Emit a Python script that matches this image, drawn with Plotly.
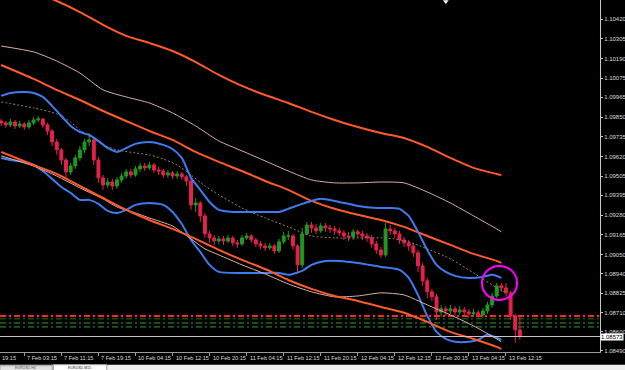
import plotly.graph_objects as go

# ---------------- data ----------------
# hourly candles, x = trading-hour index
candle_t = list(range(3, 116))
first_open = 1.09827
closes = [1.09816,1.09804,1.09821,1.09798,1.09810,1.09792,1.09816,1.09833,1.09839,1.09804,
          1.09769,1.09705,1.09659,1.09600,1.09531,1.09565,1.09612,1.09659,1.09705,1.09717,
          1.09600,1.09496,1.09455,1.09472,1.09449,1.09484,1.09507,1.09531,1.09513,1.09548,
          1.09565,1.09554,1.09571,1.09542,1.09536,1.09513,1.09525,1.09507,1.09519,1.09502,
          1.09478,1.09339,1.09350,1.09275,1.09170,1.09147,1.09129,1.09141,1.09129,1.09147,
          1.09118,1.09112,1.09147,1.09158,1.09135,1.09112,1.09100,1.09089,1.09100,1.09071,
          1.09124,1.09158,1.09158,1.09100,1.08990,1.09170,1.09222,1.09205,1.09188,1.09216,
          1.09205,1.09199,1.09188,1.09176,1.09158,1.09153,1.09182,1.09170,1.09158,1.09147,
          1.09112,1.09077,1.09048,1.09199,1.09188,1.09170,1.09135,1.09118,1.09100,1.09060,
          1.08984,1.08897,1.08833,1.08804,1.08716,1.08734,1.08722,1.08734,1.08716,1.08728,
          1.08716,1.08705,1.08711,1.08699,1.08722,1.08757,1.08809,1.08868,1.08856,1.08827,
          1.08693,1.08612,1.08573]
highs = [1.09839,1.09827,1.09839,1.09833,1.09827,1.09821,1.09833,1.09851,1.09856,1.09845,
         1.09816,1.09781,1.09723,1.09670,1.09612,1.09583,1.09630,1.09682,1.09723,1.09757,
         1.09728,1.09618,1.09513,1.09496,1.09490,1.09502,1.09525,1.09548,1.09548,1.09565,
         1.09583,1.09583,1.09589,1.09583,1.09560,1.09548,1.09542,1.09536,1.09536,1.09531,
         1.09513,1.09490,1.09379,1.09362,1.09292,1.09188,1.09164,1.09158,1.09158,1.09164,
         1.09158,1.09135,1.09164,1.09176,1.09170,1.09147,1.09129,1.09118,1.09118,1.09112,
         1.09141,1.09182,1.09188,1.09170,1.09112,1.09205,1.09240,1.09240,1.09228,1.09234,
         1.09234,1.09222,1.09216,1.09205,1.09193,1.09182,1.09199,1.09193,1.09188,1.09176,
         1.09164,1.09129,1.09094,1.09234,1.09222,1.09205,1.09188,1.09153,1.09135,1.09118,
         1.09077,1.09001,1.08914,1.08850,1.08821,1.08757,1.08751,1.08757,1.08751,1.08751,
         1.08745,1.08734,1.08734,1.08728,1.08740,1.08775,1.08827,1.08885,1.08885,1.08885,
         1.08839,1.08705,1.08687]
lows = [1.09798,1.09787,1.09792,1.09781,1.09787,1.09775,1.09781,1.09804,1.09821,1.09787,
        1.09746,1.09682,1.09630,1.09571,1.09496,1.09513,1.09548,1.09595,1.09641,1.09682,
        1.09571,1.09467,1.09426,1.09438,1.09426,1.09432,1.09467,1.09490,1.09496,1.09502,
        1.09531,1.09536,1.09542,1.09525,1.09513,1.09496,1.09496,1.09490,1.09490,1.09484,
        1.09449,1.09310,1.09298,1.09240,1.09147,1.09118,1.09106,1.09112,1.09106,1.09118,
        1.09100,1.09089,1.09100,1.09135,1.09118,1.09094,1.09083,1.09071,1.09077,1.09054,
        1.09060,1.09112,1.09135,1.09077,1.08937,1.08972,1.09164,1.09176,1.09170,1.09176,
        1.09182,1.09176,1.09164,1.09158,1.09135,1.09129,1.09135,1.09147,1.09135,1.09124,
        1.09089,1.09054,1.09030,1.09036,1.09164,1.09147,1.09112,1.09094,1.09071,1.09036,
        1.08949,1.08868,1.08798,1.08780,1.08670,1.08687,1.08693,1.08705,1.08693,1.08699,
        1.08693,1.08682,1.08687,1.08682,1.08682,1.08705,1.08740,1.08792,1.08833,1.08804,
        1.08670,1.08536,1.08554]
opens = [first_open] + closes[:-1]

# envelope / band lines (x = trading-hour index)
env_t = [3,10,15,20,25,30,35,40,45,50,55,60,65,70,75,80,85,90,95,100,105,110,111]
env_outer_up = [1.10647,1.10578,1.10525,1.10461,1.10386,1.10322,1.10281,1.10234,1.10170,1.10095,
                1.10031,1.09978,1.09932,1.09880,1.09833,1.09792,1.09757,1.09728,1.09676,1.09612,
                1.09554,1.09519,1.09513]
env_mid_up = [1.10263,1.10229,1.10176,1.10106,1.10008,1.09967,1.09932,1.09874,1.09798,1.09711,
              1.09653,1.09595,1.09536,1.09484,1.09467,1.09467,1.09472,1.09467,1.09414,1.09350,
              1.09275,1.09199,1.09182]
env_inner_up = [1.10153,1.10072,1.10008,1.09949,1.09885,1.09827,1.09769,1.09717,1.09647,1.09589,
                1.09536,1.09478,1.09426,1.09362,1.09316,1.09281,1.09251,1.09211,1.09158,1.09106,
                1.09054,1.09013,1.09001]

bb_t = [3,5,8,10,12,14,16,18,20,22,24,26,28,30,32,35,38,40,42,44,46,48,50,53,56,60,63,65,68,70,
        72,75,78,80,84,87,89,91,93,95,97,99,101,104,107,109,111]
bb_upper = [1.09973,1.09990,1.09996,1.09990,1.09967,1.09915,1.09856,1.09798,1.09763,1.09746,
            1.09711,1.09670,1.09647,1.09670,1.09694,1.09705,1.09688,1.09664,1.09612,1.09496,
            1.09426,1.09356,1.09310,1.09298,1.09298,1.09298,1.09298,1.09316,1.09345,1.09362,
            1.09374,1.09362,1.09345,1.09333,1.09321,1.09321,1.09316,1.09275,1.09182,1.09077,
            1.08990,1.08949,1.08926,1.08914,1.08920,1.08932,1.08914]

bb_low_t = [3,5,8,10,12,14,16,18,20,22,24,26,28,30,32,35,38,40,42,44,46,48,50,55,60,63,65,68,70,
            73,76,80,85,89,91,93,95,97,99,101,104,106,108,111]
bb_lower = [1.09612,1.09600,1.09589,1.09571,1.09536,1.09490,1.09443,1.09409,1.09368,1.09368,
            1.09345,1.09304,1.09292,1.09310,1.09339,1.09350,1.09339,1.09298,1.09228,1.09135,
            1.09065,1.08990,1.08949,1.08943,1.08943,1.08943,1.08932,1.08955,1.08990,1.09013,
            1.09013,1.09001,1.08978,1.08961,1.08914,1.08815,1.08693,1.08600,1.08559,1.08542,
            1.08542,1.08554,1.08583,1.08554]

mid_t = [3,10,15,18,20,23,25,28,32,35,38,41,44,47,50,55,60,65,70,75,80,85,88,91,95,100,105,110,112]
bb_middle = [1.09938,1.09903,1.09868,1.09821,1.09775,1.09723,1.09688,1.09659,1.09641,1.09630,
             1.09606,1.09571,1.09513,1.09449,1.09397,1.09321,1.09263,1.09211,1.09158,1.09147,
             1.09147,1.09147,1.09141,1.09124,1.09083,1.09025,1.08943,1.08856,1.08827]

low_thin_t = [3,10,15,20,25,28,32,35,40,44,47,50,55,60,65,70,75,80,85,90,95,100,105,110,111]
env_mid_low = [1.09624,1.09565,1.09507,1.09438,1.09374,1.09327,1.09292,1.09263,1.09216,1.09141,
               1.09083,1.09048,1.08990,1.08937,1.08879,1.08833,1.08804,1.08809,1.08827,1.08815,
               1.08757,1.08699,1.08635,1.08559,1.08542]
low_thick_t = [3,10,15,20,25,30,35,40,45,50,55,60,65,70,75,80,85,90,95,100,105,110,111]
env_outer_low = [1.09647,1.09571,1.09519,1.09449,1.09379,1.09310,1.09251,1.09199,1.09141,1.09077,
                 1.09019,1.08966,1.08902,1.08850,1.08809,1.08780,1.08745,1.08711,1.08658,1.08600,
                 1.08559,1.08513,1.08501]

# horizontal levels
level_prices = [1.08693, 1.08676, 1.08652, 1.08629]
level_colors = ["#FF2626", "#1C7A1C", "#2EA02E", "#2EA02E"]
level_widths = [2, 1, 1, 1]
bid_price = 1.08573

# highlight circle (hour index / price bounds)
circle_t = [106.8, 114.4]
circle_p = [1.08786, 1.08984]

# small object at top of chart
marker_t = [99]
marker_p = [1.10522]

# axes
x_range = [2.75, 132.3]
y_range = [1.08483, 1.10531]
x_tick_t = [8,16,24,32,40,48,56,64,72,80,88,96,104,112]
x_tick_text = ["7 Feb 03:15","7 Feb 11:15","7 Feb 19:15","10 Feb 04:15","10 Feb 12:15",
               "10 Feb 20:15","11 Feb 04:15","11 Feb 12:15","11 Feb 20:15","12 Feb 04:15",
               "12 Feb 12:15","12 Feb 20:15","13 Feb 04:15","13 Feb 12:15"]
y_tick_vals = [1.10420,1.10305,1.10190,1.10075,1.09965,1.09850,1.09735,1.09620,1.09505,
               1.09395,1.09280,1.09165,1.09050,1.08940,1.08825,1.08710,1.08600,1.08490]
y_tick_text = ["%.5f" % v for v in y_tick_vals]
tab_names = ["EURUSD,H4", "EURUSD,M15"]

# ---------------- figure ----------------
ORANGE = "#FF5A2A"
BEIGE = "#DDB0A2"
BLUE = "#3F7BF0"
FONT = "Liberation Sans"

fig = go.Figure()

fig.add_trace(go.Candlestick(
    x=candle_t, open=opens, high=highs, low=lows, close=closes,
    increasing=dict(line=dict(color="#1F9A1F", width=1), fillcolor="#1F9A1F"),
    decreasing=dict(line=dict(color="#E2234C", width=1), fillcolor="#E2234C"),
    whiskerwidth=0, hoverinfo="skip"))

def line(x, y, color, width, dash="solid"):
    fig.add_trace(go.Scatter(x=x, y=y, mode="lines", hoverinfo="skip",
                             line=dict(color=color, width=width, dash=dash, shape="spline",
                                       smoothing=0.6)))

line(env_t, env_outer_up, ORANGE, 2)
line(env_t, env_mid_up, BEIGE, 1)
line(env_t, env_inner_up, ORANGE, 2)
line(mid_t, bb_middle, "#9C7C6E", 1, "2px,2px")
line(bb_t, bb_upper, BLUE, 2)
line(bb_low_t, bb_lower, BLUE, 2)
line(low_thin_t, env_mid_low, BEIGE, 1)
line(low_thick_t, env_outer_low, ORANGE, 2)

fig.add_trace(go.Scatter(x=marker_t, y=marker_p, mode="markers", hoverinfo="skip",
                         marker=dict(symbol="triangle-down", size=5, color="white")))

shapes = []
for p, c, w in zip(level_prices, level_colors, level_widths):
    shapes.append(dict(type="line", xref="paper", x0=0, x1=1, yref="y", y0=p, y1=p,
                       line=dict(color=c, width=w, dash="6px,3px,2px,3px"), layer="below"))
shapes.append(dict(type="line", xref="paper", x0=0, x1=1, yref="y", y0=bid_price, y1=bid_price,
                   line=dict(color="#C8C8C8", width=1)))
shapes.append(dict(type="circle", xref="x", yref="y", x0=circle_t[0], x1=circle_t[1],
                   y0=circle_p[0], y1=circle_p[1], line=dict(color="#FF00FF", width=2)))
# tab strip at the bottom of the window
shapes.append(dict(type="rect", xref="paper", yref="paper", x0=0, x1=1.05, y0=-0.07, y1=-0.036,
                   fillcolor="#F0F0F0", line=dict(width=0)))
shapes.append(dict(type="rect", xref="paper", yref="paper", x0=0.0, x1=0.087, y0=-0.07, y1=-0.039,
                   fillcolor="#E2E2E2", line=dict(color="#A0A0A0", width=1)))
shapes.append(dict(type="rect", xref="paper", yref="paper", x0=0.089, x1=0.178, y0=-0.07, y1=-0.036,
                   fillcolor="#FFFFFF", line=dict(color="#A0A0A0", width=1)))
fig.update_layout(shapes=shapes)

ann = []
for t, s in zip(x_tick_t, x_tick_text):
    ann.append(dict(x=t, y=0, xref="x", yref="paper", text=s, showarrow=False,
                    xanchor="left", yanchor="top", xshift=1, yshift=-1,
                    font=dict(family=FONT, size=5.6, color="#DCDCDC")))
ann.append(dict(x=x_range[0], y=0, xref="x", yref="paper", text="19:15", showarrow=False,
                xanchor="left", yanchor="top", xshift=0, yshift=-1,
                font=dict(family=FONT, size=5.6, color="#DCDCDC")))
ann.append(dict(x=1, y=bid_price, xref="paper", yref="y", text="%.5f" % bid_price, showarrow=False,
                xanchor="left", yanchor="middle", xshift=0, bgcolor="#FFFFFF", borderpad=0,
                font=dict(family=FONT, size=6, color="#000000")))
for xc, name, col in zip([0.043, 0.133], tab_names, ["#505050", "#202020"]):
    ann.append(dict(x=xc, y=-0.0375, xref="paper", yref="paper", text=name, showarrow=False,
                    xanchor="center", yanchor="top", borderpad=0,
                    font=dict(family=FONT, size=3.6, color=col)))
fig.update_layout(annotations=ann)

fig.update_layout(
    template="none",
    width=625, height=370,
    margin=dict(l=0, r=25, t=0, b=18, pad=0),
    paper_bgcolor="#000000", plot_bgcolor="#000000",
    showlegend=False, boxgap=0.1,
    font=dict(family=FONT, size=6, color="#DCDCDC"),
    xaxis=dict(range=x_range, showgrid=False, zeroline=False, showline=True,
               linecolor="#9A9A9A", linewidth=1, ticks="outside", ticklen=3,
               tickcolor="#9A9A9A", tickvals=x_tick_t, showticklabels=False,
               rangeslider=dict(visible=False), automargin=False, fixedrange=True),
    yaxis=dict(range=y_range, side="right", showgrid=False, zeroline=False, showline=True,
               linecolor="#C8C8C8", linewidth=1, ticks="outside", ticklen=2,
               tickcolor="#C8C8C8", tickvals=y_tick_vals, ticktext=y_tick_text,
               tickfont=dict(family=FONT, size=6, color="#DCDCDC"),
               automargin=False, fixedrange=True),
)

fig.write_html("out.html")
